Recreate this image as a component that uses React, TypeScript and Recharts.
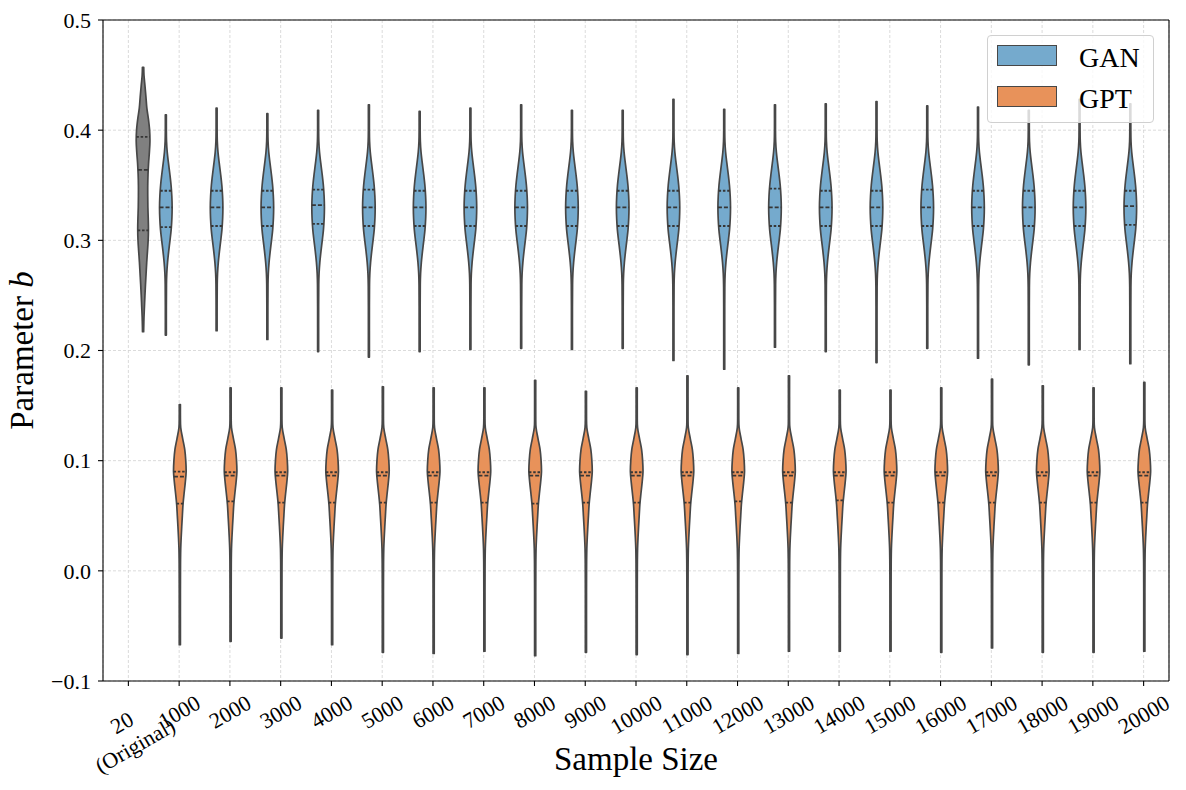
import React from "react";
import { BarChart, Bar, XAxis, YAxis, CartesianGrid, Legend, Label } from "recharts";

const categories = [
  "20\n(Original)", "1000", "2000", "3000", "4000", "5000", "6000", "7000", "8000", "9000", "10000",
  "11000", "12000", "13000", "14000", "15000", "16000", "17000", "18000", "19000", "20000",
];

// GAN violins (index 0 = original column, no GAN there)
const ganMin = [null, 0.214, 0.218, 0.21, 0.199, 0.194, 0.199, 0.201, 0.202, 0.201, 0.202, 0.191, 0.183, 0.203, 0.199, 0.189, 0.202, 0.193, 0.187, 0.201, 0.188];
const ganMax = [null, 0.414, 0.42, 0.415, 0.418, 0.423, 0.417, 0.42, 0.423, 0.418, 0.418, 0.428, 0.419, 0.423, 0.424, 0.426, 0.422, 0.421, 0.418, 0.428, 0.424];
const ganQ1 = [null, 0.312, 0.313, 0.313, 0.315, 0.313, 0.313, 0.313, 0.313, 0.313, 0.313, 0.313, 0.313, 0.313, 0.313, 0.313, 0.313, 0.313, 0.313, 0.313, 0.314];
const ganMed = [null, 0.33, 0.33, 0.33, 0.332, 0.33, 0.33, 0.33, 0.33, 0.33, 0.33, 0.33, 0.33, 0.33, 0.33, 0.33, 0.33, 0.33, 0.33, 0.33, 0.331];
const ganQ3 = [null, 0.345, 0.345, 0.345, 0.346, 0.346, 0.345, 0.345, 0.345, 0.345, 0.345, 0.345, 0.345, 0.347, 0.345, 0.345, 0.346, 0.345, 0.345, 0.345, 0.345];

// GPT violins
const gptMin = [null, -0.067, -0.064, -0.061, -0.067, -0.074, -0.075, -0.073, -0.077, -0.074, -0.076, -0.076, -0.075, -0.073, -0.073, -0.073, -0.074, -0.07, -0.074, -0.074, -0.073];
const gptMax = [null, 0.151, 0.166, 0.166, 0.164, 0.167, 0.166, 0.166, 0.173, 0.163, 0.166, 0.177, 0.166, 0.177, 0.164, 0.164, 0.166, 0.174, 0.168, 0.166, 0.171];
const gptQ1 = [null, 0.061, 0.063, 0.062, 0.062, 0.062, 0.062, 0.062, 0.061, 0.062, 0.062, 0.062, 0.063, 0.062, 0.064, 0.062, 0.062, 0.062, 0.062, 0.062, 0.062];
const gptMed = [null, 0.0855, 0.0865, 0.0865, 0.0865, 0.0865, 0.0865, 0.0865, 0.0865, 0.0865, 0.0865, 0.0865, 0.0865, 0.0865, 0.0865, 0.0865, 0.0865, 0.0865, 0.0865, 0.0865, 0.0865];
const gptQ3 = [null, 0.09, 0.0895, 0.0895, 0.0895, 0.0895, 0.0895, 0.0895, 0.0895, 0.0895, 0.0895, 0.0895, 0.0895, 0.0895, 0.0895, 0.0895, 0.0895, 0.0895, 0.0895, 0.0895, 0.0895];

// original sample (only in the first column)
const origRange = [0.217, 0.457];
const origQuartiles = [0.309, 0.364, 0.394];

// density outlines: [value, relative width]
const ganProfile = [
  [0.17, 0.08], [0.24, 0.08], [0.26, 0.1], [0.27, 0.15], [0.28, 0.27], [0.29, 0.45], [0.3, 0.66],
  [0.31, 0.85], [0.32, 0.96], [0.33, 1.0], [0.34, 0.95], [0.35, 0.83], [0.36, 0.64], [0.37, 0.42],
  [0.38, 0.22], [0.39, 0.11], [0.4, 0.08], [0.44, 0.08],
];
const gptProfile = [
  [-0.08, 0.09], [-0.02, 0.09], [0.0, 0.1], [0.01, 0.11], [0.02, 0.14], [0.03, 0.21], [0.04, 0.3],
  [0.05, 0.4], [0.06, 0.5], [0.07, 0.67], [0.08, 0.86], [0.09, 1.0], [0.1, 0.94], [0.11, 0.78],
  [0.12, 0.45], [0.13, 0.14], [0.14, 0.09], [0.18, 0.09],
];
const origProfile = [
  [0.215, 0.08], [0.22, 0.09], [0.23, 0.13], [0.24, 0.2], [0.25, 0.27], [0.26, 0.35], [0.27, 0.44],
  [0.28, 0.53], [0.29, 0.64], [0.3, 0.74], [0.31, 0.78], [0.32, 0.75], [0.33, 0.7], [0.34, 0.68],
  [0.35, 0.68], [0.36, 0.72], [0.37, 0.8], [0.38, 0.92], [0.39, 1.0], [0.4, 0.95], [0.41, 0.78],
  [0.42, 0.55], [0.43, 0.42], [0.44, 0.28], [0.45, 0.13], [0.46, 0.08],
];

const yTicks = [-0.1, 0, 0.1, 0.2, 0.3, 0.4, 0.5];

const GAN_COLOR = "#75aacd";
const GPT_COLOR = "#e8925a";
const ORIG_COLOR = "#808080";
const EDGE = "#474747";
const FONT = "'Liberation Serif', 'Times New Roman', serif";

const rows = categories.map((label, i) => ({
  label,
  gan: ganMin[i] == null ? null : [ganMin[i], ganMax[i]],
  ganQ: [ganQ1[i], ganMed[i], ganQ3[i]],
  gpt: gptMin[i] == null ? null : [gptMin[i], gptMax[i]],
  gptQ: [gptQ1[i], gptMed[i], gptQ3[i]],
  orig: i === 0 ? origRange : null,
  origQ: origQuartiles,
}));

function widthAt(profile: number[][], v: number) {
  if (v <= profile[0][0]) return profile[0][1];
  for (let i = 1; i < profile.length; i++) {
    if (v <= profile[i][0]) {
      const [v0, w0] = profile[i - 1];
      const [v1, w1] = profile[i];
      return w0 + ((v - v0) / (v1 - v0)) * (w1 - w0);
    }
  }
  return profile[profile.length - 1][1];
}

function smooth(pts: number[][]) {
  let d = "";
  for (let i = 0; i < pts.length - 1; i++) {
    const p0 = pts[i - 1] || pts[i];
    const p1 = pts[i];
    const p2 = pts[i + 1];
    const p3 = pts[i + 2] || p2;
    const c1x = p1[0] + (p2[0] - p0[0]) / 6;
    const c1y = p1[1] + (p2[1] - p0[1]) / 6;
    const c2x = p2[0] - (p3[0] - p1[0]) / 6;
    const c2y = p2[1] - (p3[1] - p1[1]) / 6;
    d += ` C${c1x},${c1y} ${c2x},${c2y} ${p2[0]},${p2[1]}`;
  }
  return d;
}

function violinShape(profile: number[][], rangeKey: string, quartKey: string, scale: number) {
  return (props: any) => {
    const { x, y, width, height, payload, fill } = props;
    const range = payload && payload[rangeKey];
    if (!range || !isFinite(y) || !isFinite(height)) return <g />;
    const [lo, hi] = range;
    const top = Math.min(y, y + height);
    const h = Math.abs(height);
    const toPx = (v: number) => top + ((hi - v) / (hi - lo)) * h;
    const cx = x + width / 2;
    const half = (v: number) => Math.max((widthAt(profile, v) * width * scale) / 2, 0.4);

    const vals = [hi, ...profile.map((p) => p[0]).filter((v) => v < hi - 0.002 && v > lo + 0.002).reverse(), lo];
    const right = vals.map((v) => [cx + half(v), toPx(v)]);
    const left = vals.slice().reverse().map((v) => [cx - half(v), toPx(v)]);
    const d = `M${right[0][0]},${right[0][1]}${smooth(right)} L${left[0][0]},${left[0][1]}${smooth(left)} Z`;
    const q = payload[quartKey];

    return (
      <g>
        <path d={d} fill={fill} stroke={EDGE} strokeWidth={1.7} strokeLinejoin="round" />
        {q.map((v: number, i: number) => (
          <line
            key={i}
            x1={cx - half(v)}
            x2={cx + half(v)}
            y1={toPx(v)}
            y2={toPx(v)}
            stroke="#363636"
            strokeWidth={1.8}
            strokeDasharray={i === 1 ? "4 2" : "2.5 1.8"}
          />
        ))}
      </g>
    );
  };
}

function XTick(props: any) {
  const { x, y, payload } = props;
  const lines = String(payload.value).split("\n");
  const fs = 22;
  const lineH = fs * 1.2;
  const w = Math.max(...lines.map((l) => l.length * fs * (/^\d+$/.test(l) ? 0.5 : 0.4)));
  const hgt = fs + (lines.length - 1) * lineH;
  const bboxH = w * 0.5 + hgt * 0.866;
  const cy = y + 3 + bboxH / 2;
  return (
    <g transform={`translate(${x},${cy}) rotate(-30)`}>
      <text textAnchor="middle" fontSize={fs} fill="#000" fontFamily={FONT}>
        {lines.map((l, i) => (
          <tspan key={i} x={0} y={(i - (lines.length - 1) / 2) * lineH} dy="0.35em">
            {l}
          </tspan>
        ))}
      </text>
    </g>
  );
}

function LegendBox(props: any) {
  const items = (props.payload || []).filter((p: any) => p.type !== "none");
  return (
    <div
      style={{
        background: "rgba(255,255,255,0.8)",
        border: "1px solid #d0d0d0",
        borderRadius: 4,
        padding: "9px 0 15px 9px",
        boxSizing: "border-box",
        width: 167,
        fontFamily: FONT,
      }}
    >
      {items.map((it: any, i: number) => (
        <div key={it.value} style={{ display: "flex", alignItems: "center", height: 21, marginTop: i ? 20 : 0 }}>
          <div style={{ width: 60, height: 21, boxSizing: "border-box", background: it.color, border: `1.8px solid ${EDGE}` }} />
          <span style={{ marginLeft: 22, fontSize: 28, lineHeight: "21px", color: "#000", position: "relative", top: 2 }}>{it.value}</span>
        </div>
      ))}
    </div>
  );
}

export default function App() {
  return (
    <div style={{ position: "absolute", left: 0, top: 0, background: "#fff", fontFamily: FONT }}>
      <BarChart
        width={1186}
        height={790}
        data={rows}
        margin={{ top: 19, right: 16, left: 0, bottom: 0 }}
        barCategoryGap="10%"
        barGap={0}
      >
        <XAxis
          dataKey="label"
          height={109}
          interval={0}
          tickSize={5}
          tickMargin={2}
          tick={<XTick />}
          axisLine={{ stroke: "#000", strokeWidth: 1.1 }}
          tickLine={{ stroke: "#000", strokeWidth: 1.1 }}
        >
          <Label
            content={(p: any) => {
              const vb = p.viewBox || {};
              return (
                <text x={vb.x + vb.width / 2} y={vb.y + 89} textAnchor="middle" fontSize={33} fill="#000" fontFamily={FONT}>
                  Sample Size
                </text>
              );
            }}
          />
        </XAxis>
        <XAxis
          xAxisId="top"
          dataKey="label"
          orientation="top"
          height={1}
          interval={0}
          tick={false}
          tickLine={false}
          axisLine={{ stroke: "#000", strokeWidth: 1.1 }}
        />
        <YAxis
          width={103}
          domain={[-0.1, 0.5]}
          ticks={yTicks}
          interval={0}
          tickSize={5}
          tickMargin={7}
          tickFormatter={(v: number) => (v < 0 ? "\u2212" + Math.abs(v).toFixed(1) : v.toFixed(1))}
          tick={{ fill: "#000", fontSize: 22, fontFamily: FONT }}
          axisLine={{ stroke: "#000", strokeWidth: 1.1 }}
          tickLine={{ stroke: "#000", strokeWidth: 1.1 }}
        >
          <Label
            content={(p: any) => {
              const vb = p.viewBox || {};
              const cy = vb.y + vb.height / 2;
              const cx = vb.x + 33;
              return (
                <text x={cx} y={cy} transform={`rotate(-90 ${cx} ${cy})`} textAnchor="middle" fontSize={33} fill="#000" fontFamily={FONT}>
                  <tspan>Parameter </tspan>
                  <tspan fontStyle="italic">b</tspan>
                </text>
              );
            }}
          />
        </YAxis>
        <YAxis
          yAxisId="right"
          orientation="right"
          width={1}
          domain={[-0.1, 0.5]}
          ticks={yTicks}
          tick={false}
          tickLine={false}
          axisLine={{ stroke: "#000", strokeWidth: 1.1 }}
        />
        <Bar dataKey="gan" name="GAN" fill={GAN_COLOR} isAnimationActive={false} shape={violinShape(ganProfile, "gan", "ganQ", 0.9)} />
        <Bar dataKey="gpt" name="GPT" fill={GPT_COLOR} isAnimationActive={false} shape={violinShape(gptProfile, "gpt", "gptQ", 0.9)} />
        <Bar dataKey="orig" name="Original" legendType="none" fill={ORIG_COLOR} isAnimationActive={false} shape={violinShape(origProfile, "orig", "origQ", 0.98)} />
        <CartesianGrid strokeDasharray="3 2" stroke="#d2d2d2" strokeWidth={0.8} />
        <Legend
          layout="horizontal"
          verticalAlign="middle"
          align="center"
          wrapperStyle={{ top: 35, left: 987, width: 167 }}
          content={<LegendBox />}
        />
      </BarChart>
    </div>
  );
}
